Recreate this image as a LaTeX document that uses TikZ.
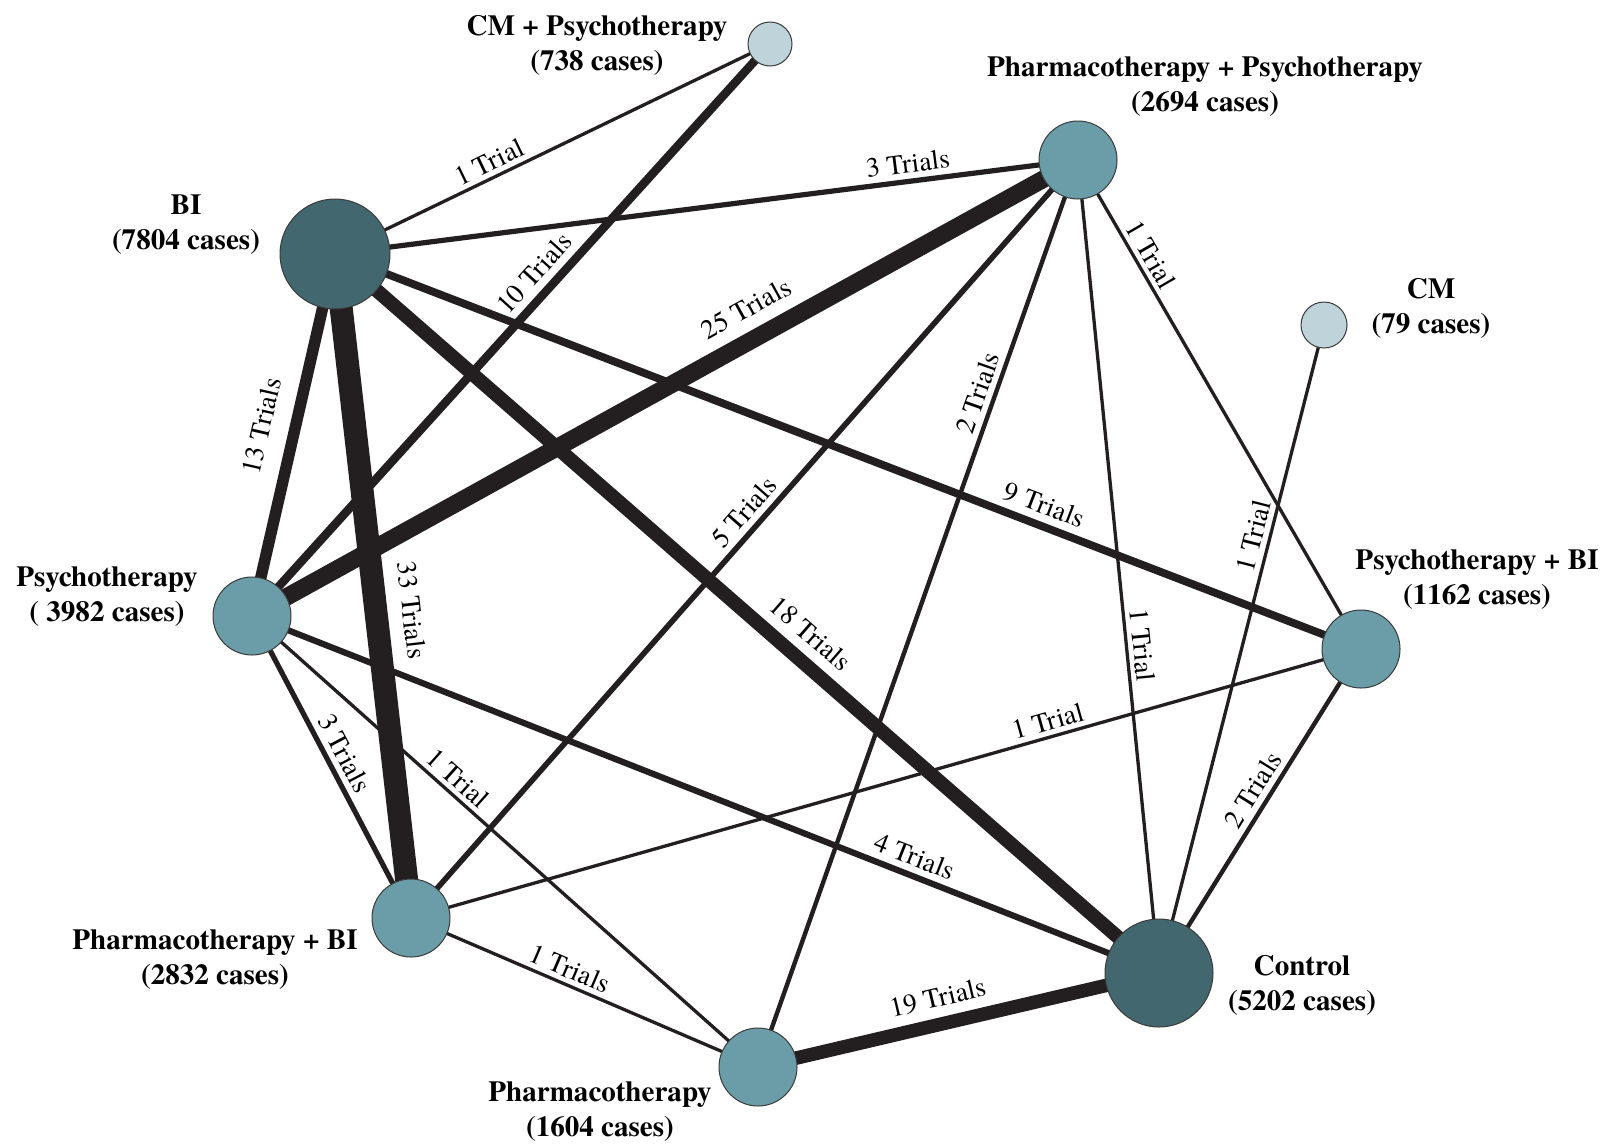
\documentclass[tikz,border=0pt]{standalone}
\usepackage{fontspec}
\setmainfont{texgyretermes}[Extension=.otf, UprightFont=*-regular, BoldFont=*-bold, ItalicFont=*-italic, BoldItalicFont=*-bolditalic]
\usetikzlibrary{backgrounds}
\definecolor{darkteal}{HTML}{43676F}
\definecolor{midteal}{HTML}{6B9DA8}
\definecolor{lightteal}{HTML}{BED4DA}
\definecolor{edgeblack}{HTML}{231F20}
\definecolor{rimgray}{HTML}{3A3A3A}
\begin{document}
\begin{tikzpicture}[x=0.5pt,y=-0.5pt,
  trt/.style={circle, draw=rimgray, line width=0.5pt, inner sep=0pt},
  trtdark/.style={trt, fill=darkteal},
  trtmid/.style={trt, fill=midteal, minimum size=39pt},
  trtlight/.style={trt, fill=lightteal},
  nlab/.style={align=center, font=\bfseries\fontsize{14.55}{17.5}\selectfont, inner sep=0pt},
  lnk/.style={draw=edgeblack, line width=#1},
  lbl/.style={sloped, above=#1, font=\fontsize{13.75}{16}\selectfont, inner sep=0.8pt}
]
\path[use as bounding box] (0,0) rectangle (1609,1146);

% treatment circles
\node[trtlight, minimum size=22pt] (CMP) at (770,44) {};
\node[trtmid] (PP) at (1078,160) {};
\node[trtdark, minimum size=55pt] (BI) at (335,254) {};
\node[trtlight, minimum size=23pt] (CM) at (1324,325) {};
\node[trtmid] (Psy) at (252,616) {};
\node[trtmid] (PsyBI) at (1361,649) {};
\node[trtmid] (PharmBI) at (411,918) {};
\node[trtdark, minimum size=54pt] (Control) at (1159,973) {};
\node[trtmid] (Pharm) at (758,1067) {};

% treatment labels
\node[nlab] (tCMP) at (597,45) {CM + Psychotherapy\\(738 cases)};
\node[nlab] (tPP) at (1205,87) {Pharmacotherapy + Psychotherapy\\(2694 cases)};
\node[nlab] (tBI) at (186,225) {BI\\(7804 cases)};
\node[nlab] (tCM) at (1431,308) {CM\\(79 cases)};
\node[nlab] (tPsy) at (107,597) {Psychotherapy\\( 3982 cases)};
\node[nlab] (tPsyBI) at (1477,580) {Psychotherapy + BI\\(1162 cases)};
\node[nlab] (tPharmBI) at (215,960) {Pharmacotherapy + BI\\(2832 cases)};
\node[nlab] (tControl) at (1302,985) {Control\\(5202 cases)};
\node[nlab] (tPharm) at (600,1111.5) {Pharmacotherapy\\(1604 cases)};

% comparisons
\begin{scope}[on background layer]
\fill[white] (0,0) rectangle (1609,1146);
\draw[lnk=1.65pt] (BI.center) -- node[lbl=1.6pt, pos=0.37] {1 Trial} (CMP.center);
\draw[lnk=2.6pt] (BI.center) -- node[lbl=2.1pt, pos=0.774] {3 Trials} (PP.center);
\draw[lnk=4.25pt] (Psy.center) -- node[lbl=2.9pt, pos=0.575] {10 Trials} (CMP.center);
\draw[lnk=8.75pt] (Psy.center) -- node[lbl=5.2pt, pos=0.616] {25 Trials} (PP.center);
\draw[lnk=5.75pt] (BI.center) -- node[lbl=8pt, pos=0.495] {13 Trials} (Psy.center);
\draw[lnk=11.5pt] (BI.center) -- node[lbl=6.6pt, pos=0.543] {33 Trials} (PharmBI.center);
\draw[lnk=7pt] (BI.center) -- node[lbl=4.3pt, pos=0.556] {18 Trials} (Control.center);
\draw[lnk=3.9pt] (BI.center) -- node[lbl=2.75pt, pos=0.684] {9 Trials} (PsyBI.center);
\draw[lnk=2.8pt] (PP.center) -- node[lbl=2.2pt, pos=0.48] {5 Trials} (PharmBI.center);
\draw[lnk=2.2pt] (PP.center) -- node[lbl=1.9pt, pos=0.263] {2 Trials} (Pharm.center);
\draw[lnk=1.65pt] (PP.center) -- node[lbl=1.6pt, pos=0.598] {1 Trial} (Control.center);
\draw[lnk=1.65pt] (PP.center) -- node[lbl=1.6pt, pos=0.21] {1 Trial} (PsyBI.center);
\draw[lnk=1.65pt] (CM.center) -- node[lbl=1.6pt, pos=0.332] {1 Trial} (Control.center);
\draw[lnk=2.6pt] (Psy.center) -- node[lbl=2.1pt, pos=0.483] {3 Trials} (PharmBI.center);
\draw[lnk=1.65pt] (Psy.center) -- node[lbl=1.6pt, pos=0.386] {1 Trial} (Pharm.center);
\draw[lnk=3.1pt] (Psy.center) -- node[lbl=2.35pt, pos=0.723] {4 Trials} (Control.center);
\draw[lnk=1.65pt] (PharmBI.center) -- node[lbl=1.6pt, pos=0.675] {1 Trial} (PsyBI.center);
\draw[lnk=1.65pt] (PharmBI.center) -- node[lbl=1.6pt, pos=0.44] {1 Trials} (Pharm.center);
\draw[lnk=6.8pt] (Pharm.center) -- node[lbl=4.2pt, pos=0.463] {19 Trials} (Control.center);
\draw[lnk=2.2pt] (PsyBI.center) -- node[lbl=1.9pt, pos=0.463] {2 Trials} (Control.center);
\end{scope}
\end{tikzpicture}
\end{document}
